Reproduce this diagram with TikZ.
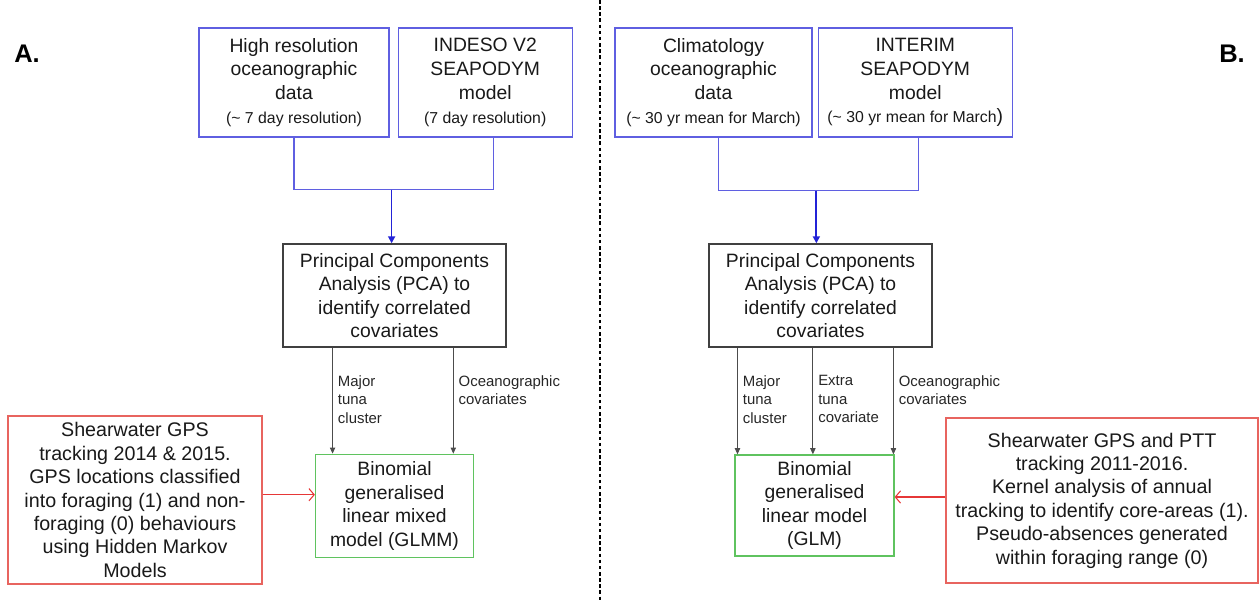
\documentclass[tikz,border=0pt]{standalone}
\usepackage{fontspec}
\setmainfont{Liberation Sans}
\usetikzlibrary{positioning,calc,arrows.meta}
\definecolor{boxblue}{RGB}{95,95,225}
\definecolor{arrblue}{RGB}{35,35,215}
\definecolor{boxgreen}{RGB}{95,195,95}
\definecolor{boxred}{RGB}{232,100,95}
\definecolor{arrred}{RGB}{230,55,55}

\begin{document}
\begin{tikzpicture}[
    x=0.2mm, y=-0.2mm,
    data/.style={rectangle, draw=boxblue, line width=0.7pt, minimum height=21.8mm, align=center, text=black!90, font=\fontsize{11}{13.6}\selectfont},
    pca/.style={rectangle, draw=black!75, line width=0.8pt, minimum width=44.6mm, minimum height=20.6mm, align=center, text=black!90, font=\fontsize{11}{13.4}\selectfont},
    glm/.style={rectangle, draw=boxgreen, line width=0.7pt, minimum width=31.6mm, minimum height=20.6mm, align=center, text=black!90, font=\fontsize{11}{13.4}\selectfont},
    track/.style={rectangle, draw=boxred, line width=0.7pt, align=center, text=black!90, font=\fontsize{11.2}{13.3}\selectfont},
    lbl/.style={font=\fontsize{8.5}{10.5}\selectfont, align=left, anchor=north west, inner sep=2.8pt, text=black!85},
    panel/.style={font=\bfseries\fontsize{14.5}{17}\selectfont},
    bline/.style={draw=boxblue, line width=0.8pt},
    barr/.style={draw=arrblue, line width=1pt, -{Triangle[length=4pt,width=4pt]}},
    karr/.style={draw=black!70, line width=0.55pt, -{Triangle[length=3.5pt,width=3pt]}},
    rarr/.style={draw=arrred, line width=0.6pt, -{Straight Barb[length=3pt,width=7pt]}}
]
    \useasboundingbox (0,0) rectangle (1260,600);

    \node[panel] (labA) at (27,54) {A.};
    \node[panel] (labB) at (1232,54) {B.};
    \draw[line width=1.1pt, dash pattern=on 2pt off 1.5pt] (600,0) -- (600,600);

    \node[data, minimum width=38mm] (hires) at (294,82.5) {High resolution\\oceanographic\\data\\{\fontsize{9}{11}\selectfont(\textasciitilde{} 7 day resolution)}};
    \node[data, minimum width=34.8mm, right=1.6mm of hires] (indeso) {INDESO V2\\SEAPODYM\\model\\{\fontsize{9}{11}\selectfont(7 day resolution)}};
    \node[pca] (pcaA) at (394.5,295.5) {Principal Components\\Analysis (PCA) to\\identify correlated\\covariates};
    \node[glm, below=21.2mm of pcaA] (glmmA) {Binomial\\generalised\\linear mixed\\model (GLMM)};
    \node[track, minimum width=50.8mm, minimum height=33.6mm] (trackA) at (135,500) {Shearwater GPS\\tracking 2014 \& 2015.\\GPS locations classified\\into foraging (1) and non-\\foraging (0) behaviours\\using Hidden Markov\\Models};

    \node[data, minimum width=39.4mm] (clim) at (713.5,82.5) {Climatology\\oceanographic\\data\\{\fontsize{9}{11}\selectfont(\textasciitilde{} 30 yr mean for March)}};
    \node[data, minimum width=38.8mm, right=1mm of clim] (interim) {INTERIM\\SEAPODYM\\model\\{\fontsize{9}{11}\selectfont(\textasciitilde{} 30 yr mean for March}{\fontsize{11}{13}\selectfont)}};
    \node[pca] (pcaB) at (820.5,295.5) {Principal Components\\Analysis (PCA) to\\identify correlated\\covariates};
    \node[glm, minimum width=31.8mm, minimum height=20.2mm] (glmB) at (814.5,505.5) {Binomial\\generalised\\linear model\\(GLM)};
    \node[track, minimum width=62.4mm, minimum height=33mm] (trackB) at (1102,500.5) {Shearwater GPS and PTT\\tracking 2011-2016.\\Kernel analysis of annual\\tracking to identify core-areas (1).\\Pseudo-absences generated\\within foraging range (0)};

    \coordinate (jA) at ($(hires.south)!0.5!(indeso.south)+(2,52)$);
    \draw[bline] (hires.south) |- (jA) -| ($(indeso.south)+(8,0)$);
    \draw[barr] (jA) -- (jA |- pcaA.north);
    \coordinate (jB) at ($(clim.south)!0.5!(interim.south)+(2,53)$);
    \draw[bline] ($(clim.south)+(5,0)$) |- (jB) -| ($(interim.south)+(3,0)$);
    \draw[barr] (jB) -- (jB |- pcaB.north);

    \draw[karr] ($(pcaA.south west)!0.224!(pcaA.south east)$) coordinate (a1) -- node[lbl, pos=0.21] {Major\\tuna\\cluster} (a1 |- glmmA.north);
    \draw[karr] ($(pcaA.south west)!0.762!(pcaA.south east)$) coordinate (a2) -- node[lbl, pos=0.21] {Oceanographic\\covariates} (a2 |- glmmA.north);
    \draw[karr] ($(pcaB.south west)!0.13!(pcaB.south east)$) coordinate (b1) -- node[lbl, pos=0.21] {Major\\tuna\\cluster} (b1 |- glmB.north);
    \draw[karr] ($(pcaB.south west)!0.466!(pcaB.south east)$) coordinate (b2) -- node[lbl, pos=0.21] {Extra\\tuna\\covariate} (b2 |- glmB.north);
    \draw[karr] ($(pcaB.south west)!0.825!(pcaB.south east)$) coordinate (b3) -- node[lbl, pos=0.21] {Oceanographic\\covariates} (b3 |- glmB.north);

    \draw[rarr] ([yshift=3pt]trackA.east) -- ([yshift=3pt]trackA.east -| glmmA.west);
    \draw[rarr] ([yshift=2pt]trackB.west) -- ([yshift=2pt]trackB.west -| glmB.east);
\end{tikzpicture}
\end{document}
